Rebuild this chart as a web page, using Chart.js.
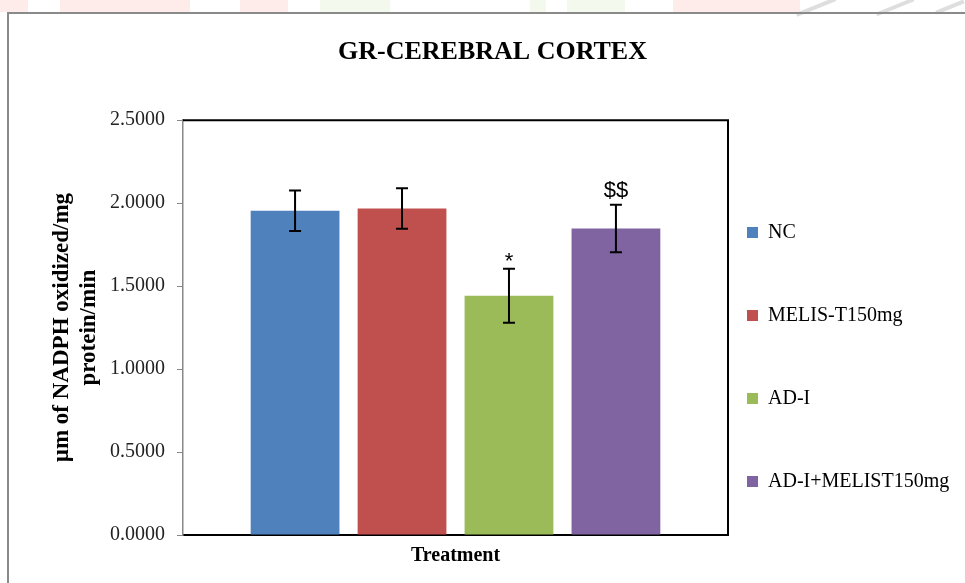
<!DOCTYPE html>
<html>
<head>
<meta charset="utf-8">
<script src="https://cdn.jsdelivr.net/npm/chart.js@4.4.1/dist/chart.umd.min.js"></script>
<style>
  html, body { margin: 0; padding: 0; background: #fff; }
  #wrap { position: relative; width: 965px; height: 583px; overflow: hidden; }
  #frame { position: absolute; left: 7px; top: 12px; width: 1200px; height: 800px;
           border-left: 2px solid #8a8a8a; border-top: 2px solid #8a8a8a; }
  /* faint page watermark showing above the frame */
  .wm { position: absolute; top: 0; height: 12px; }
  .pink { background: #feeceb; }
  .green { background: #f3f9ec; }
  .grey { background: #dedede; height: 4px; transform: rotate(-22deg); }
  canvas { position: absolute; left: 0; top: 0; }
</style>
</head>
<body>
<div id="wrap">
  <div class="wm pink" style="left:0;width:28px"></div>
  <div class="wm pink" style="left:60px;width:130px"></div>
  <div class="wm pink" style="left:240px;width:48px"></div>
  <div class="wm green" style="left:320px;width:70px"></div>
  <div class="wm green" style="left:530px;width:16px"></div>
  <div class="wm green" style="left:567px;width:58px"></div>
  <div class="wm pink" style="left:673px;width:127px"></div>
  <div class="wm grey" style="left:795px;top:5px;width:42px"></div>
  <div class="wm grey" style="left:875px;top:5px;width:40px"></div>
  <div class="wm grey" style="left:935px;top:5px;width:30px"></div>
  <div id="frame"></div>
  <canvas id="gr-chart" width="965" height="583"></canvas>
</div>
<script>
// GR activity, cerebral cortex
const groups = ['NC', 'MELIS-T150mg', 'AD-I', 'AD-I+MELIST150mg'];
const means = [1.954, 1.968, 1.442, 1.847];
const errors = [0.122, 0.122, 0.163, 0.143];
const marks = ['', '', '*', '$$'];
const colors = ['#4F81BD', '#C0504D', '#9BBB59', '#8064A2'];

const serif = '"Liberation Serif", "Times New Roman", serif';

const datasets = groups.map((g, i) => ({
  label: g,
  data: [means[i]],
  backgroundColor: colors[i],
  borderWidth: 0,
  categoryPercentage: 0.785,
  barPercentage: 0.83
}));

// error bars + significance marks
const errorBars = {
  id: 'errorBars',
  afterDatasetsDraw(chart) {
    const ctx = chart.ctx;
    const y = chart.scales.y;
    ctx.save();
    ctx.strokeStyle = '#000';
    ctx.lineWidth = 2;
    chart.data.datasets.forEach((ds, i) => {
      const bar = chart.getDatasetMeta(i).data[0];
      const top = y.getPixelForValue(means[i] + errors[i]);
      const bot = y.getPixelForValue(means[i] - errors[i]);
      ctx.beginPath();
      ctx.moveTo(bar.x, top); ctx.lineTo(bar.x, bot);
      ctx.moveTo(bar.x - 6, top); ctx.lineTo(bar.x + 6, top);
      ctx.moveTo(bar.x - 6, bot); ctx.lineTo(bar.x + 6, bot);
      ctx.stroke();
      if (marks[i]) {
        ctx.fillStyle = '#000';
        ctx.font = '22px "Liberation Sans", "DejaVu Sans", sans-serif';
        ctx.textAlign = 'center';
        ctx.textBaseline = 'alphabetic';
        ctx.fillText(marks[i], bar.x, top - (marks[i] === '*' ? 1 : 8));
      }
    });
    ctx.restore();
  }
};

// black frame on top / right of the plot area
const plotFrame = {
  id: 'plotFrame',
  afterDraw(chart) {
    const a = chart.chartArea;
    const ctx = chart.ctx;
    ctx.save();
    ctx.strokeStyle = '#000';
    ctx.lineWidth = 2;
    ctx.beginPath();
    ctx.moveTo(a.left, a.top);
    ctx.lineTo(a.right, a.top);
    ctx.lineTo(a.right, a.bottom);
    ctx.stroke();
    ctx.restore();
  }
};

// fixed legend width, then move the legend next to the plot and lower it
const legendFit = {
  id: 'legendFit',
  beforeInit(chart) {
    const fit = chart.legend.fit;
    chart.legend.fit = function () {
      fit.call(this);
      this.width = 237;
    };
  },
  afterLayout(chart) {
    const lg = chart.legend;
    const pad = lg.options.labels.padding;
    lg.left = chart.chartArea.right + 19 - pad;
    lg.top += 73;
    lg.bottom += 73;
  }
};

new Chart(document.getElementById('gr-chart').getContext('2d'), {
  type: 'bar',
  data: { labels: [''], datasets: datasets },
  options: {
    responsive: false,
    animation: false,
    devicePixelRatio: 1,
    layout: { padding: { left: 20, right: 0, top: 0, bottom: 15 } },
    plugins: {
      title: {
        display: true,
        text: 'GR-CEREBRAL CORTEX',
        color: '#000',
        font: { family: serif, size: 26, weight: 'bold' },
        padding: { top: 37, bottom: 52 }
      },
      legend: {
        position: 'right',
        labels: {
          color: '#000',
          font: { family: serif, size: 20 },
          boxWidth: 11,
          boxHeight: 11,
          padding: 63
        }
      },
      tooltip: { enabled: false }
    },
    scales: {
      x: {
        grid: { display: false },
        border: { color: '#000', width: 2 },
        ticks: { display: false },
        title: {
          display: true,
          text: 'Treatment',
          color: '#000',
          font: { family: serif, size: 20, weight: 'bold' },
          padding: { top: 1, bottom: 0 }
        }
      },
      y: {
        min: 0,
        max: 2.5,
        afterFit(scale) { scale.width = 163; },
        ticks: {
          stepSize: 0.5,
          color: '#222',
          padding: 12,
          font: { family: serif, size: 20 },
          callback: v => Number(v).toFixed(4)
        },
        grid: { display: true, drawOnChartArea: false, drawTicks: true, tickLength: 6, color: '#888' },
        border: { color: '#888', width: 1.5 },
        title: {
          display: true,
          text: ['\u00b5m of NADPH oxidized/mg', 'protein/min'],
          color: '#000',
          font: { family: serif, size: 23, weight: 'bold' },
          padding: { top: 28, bottom: 4 }
        }
      }
    }
  },
  plugins: [errorBars, plotFrame, legendFit]
});
</script>
</body>
</html>
